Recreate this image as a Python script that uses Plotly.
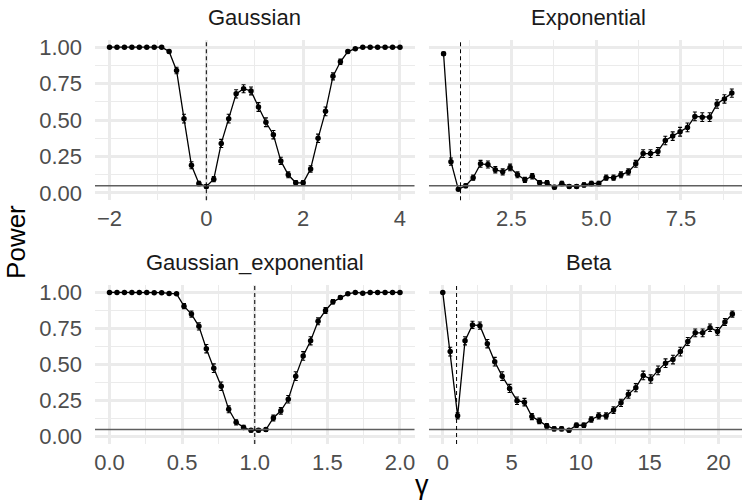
import plotly.graph_objects as go

# ---------------- data ----------------
panels = ["Gaussian", "Exponential", "Gaussian_exponential", "Beta"]
true_values = [0, 1, 1, 1]
alpha_level = 0.05

gauss_x = [-2 + 6 * i / 39 for i in range(40)]
gauss_power = [1, 1, 1, 1, 1, 1, 1, 1, 0.97, 0.84, 0.51, 0.19, 0.065, 0.045, 0.095, 0.34,
               0.51, 0.68, 0.715, 0.70, 0.59, 0.485, 0.40, 0.22, 0.125, 0.07, 0.07, 0.165,
               0.375, 0.56, 0.80, 0.90, 0.97, 0.99, 1, 1, 1, 1, 1, 1]
gauss_err = [0, 0, 0, 0, 0, 0, 0, 0, 0.010, 0.022, 0.030, 0.024, 0.015, 0.012, 0.018, 0.028,
             0.030, 0.028, 0.027, 0.027, 0.030, 0.030, 0.029, 0.025, 0.020, 0.015, 0.015, 0.022,
             0.029, 0.030, 0.024, 0.018, 0.010, 0.006, 0, 0, 0, 0, 0, 0]

expo_x = [0.5 + 8.5 * i / 39 for i in range(40)]
expo_power = [0.955, 0.215, 0.025, 0.05, 0.105, 0.2, 0.195, 0.16, 0.145, 0.175, 0.125, 0.09,
              0.115, 0.07, 0.07, 0.04, 0.065, 0.045, 0.045, 0.055, 0.065, 0.065, 0.105, 0.105,
              0.125, 0.145, 0.2, 0.27, 0.27, 0.285, 0.36, 0.39, 0.42, 0.45, 0.525, 0.52, 0.52,
              0.61, 0.645, 0.685]
expo_err = [0.012, 0.025, 0.009, 0.013, 0.018, 0.024, 0.024, 0.022, 0.021, 0.023, 0.020, 0.017,
            0.019, 0.015, 0.015, 0.012, 0.015, 0.012, 0.012, 0.014, 0.015, 0.015, 0.018, 0.018,
            0.020, 0.021, 0.024, 0.027, 0.027, 0.027, 0.029, 0.029, 0.030, 0.030, 0.030, 0.030,
            0.030, 0.029, 0.029, 0.028]

gexp_x = [2 * i / 39 for i in range(40)]
gexp_power = [1, 1, 1, 1, 1, 1, 0.998, 0.998, 0.993, 0.99, 0.905, 0.85, 0.765, 0.61, 0.475,
              0.35, 0.19, 0.10, 0.065, 0.045, 0.045, 0.05, 0.13, 0.18, 0.26, 0.42, 0.56, 0.665,
              0.80, 0.875, 0.935, 0.965, 0.99, 1, 0.995, 1, 1, 1, 1, 1]
gexp_err = [0, 0, 0, 0, 0, 0, 0.003, 0.003, 0.005, 0.006, 0.018, 0.021, 0.025, 0.029, 0.030,
            0.029, 0.024, 0.018, 0.015, 0.012, 0.012, 0.013, 0.020, 0.023, 0.026, 0.030, 0.030,
            0.028, 0.024, 0.020, 0.015, 0.011, 0.006, 0, 0.004, 0, 0, 0, 0, 0]

beta_x = [21 * i / 39 for i in range(40)]
beta_power = [1.0, 0.59, 0.145, 0.665, 0.775, 0.77, 0.645, 0.52, 0.42, 0.335, 0.25, 0.24, 0.14,
              0.11, 0.075, 0.055, 0.055, 0.045, 0.08, 0.08, 0.12, 0.145, 0.145, 0.185, 0.235,
              0.295, 0.34, 0.425, 0.40, 0.46, 0.51, 0.535, 0.59, 0.66, 0.72, 0.72, 0.755, 0.73,
              0.795, 0.85]
beta_err = [0, 0.030, 0.021, 0.028, 0.025, 0.025, 0.029, 0.030, 0.030, 0.028, 0.026, 0.026,
            0.021, 0.019, 0.016, 0.014, 0.014, 0.012, 0.016, 0.016, 0.019, 0.021, 0.021, 0.023,
            0.025, 0.027, 0.028, 0.030, 0.029, 0.030, 0.030, 0.030, 0.030, 0.028, 0.027, 0.027,
            0.026, 0.027, 0.024, 0.021]

y_ticks = [0, 0.25, 0.5, 0.75, 1.0]

# ---------------- layout geometry (window pixels; body margin removed) ----------------
W, H = 743, 500
ML, MR, MT = 95, 0, 0
BOT = 444
MB = H - BOT
PW, PH = W - ML - MR, H - MT - MB


def fx(p):  # pixel x -> paper fraction
    return (p - ML) / PW


def fy(p):  # pixel y -> paper fraction
    return (BOT - p) / PH


FONT = "Liberation Sans, Arial, Helvetica, sans-serif"
GRID = "#EBEBEB"
TICKC = "#4D4D4D"
FS = 22

xs = [gauss_x, expo_x, gexp_x, beta_x]
ys = [gauss_power, expo_power, gexp_power, beta_power]
es = [gauss_err, expo_err, gexp_err, beta_err]

fig = go.Figure()
for i in range(4):
    sfx = "" if i == 0 else str(i + 1)
    fig.add_trace(go.Scatter(
        x=xs[i], y=ys[i], mode="lines+markers",
        line=dict(color="black", width=1.3),
        marker=dict(color="black", size=5.5),
        error_y=dict(type="data", array=es[i], visible=True, color="black",
                     thickness=1.1, width=2),
        xaxis="x" + sfx, yaxis="y" + sfx, showlegend=False, hoverinfo="skip"))

left_dom = [fx(95), fx(415)]
right_dom = [fx(429.5), 1.0]
top_dom = [fy(197.5), fy(35.3)]
bot_dom = [0.0, fy(283.4)]

x_specs = [
    dict(domain=left_dom, range=[-2.3, 4.3], dtick=2, tick0=0, minor_dtick=1, fmt="d", anchor="y"),
    dict(domain=right_dom, range=[0.07, 9.3], dtick=2.5, tick0=0, minor_dtick=1.25, fmt=".1f", anchor="y2"),
    dict(domain=left_dom, range=[-0.1, 2.1], dtick=0.5, tick0=0, minor_dtick=0.25, fmt=".1f", anchor="y3"),
    dict(domain=right_dom, range=[-1.0, 21.7], dtick=5, tick0=0, minor_dtick=2.5, fmt="d", anchor="y4"),
]
y_doms = [top_dom, top_dom, bot_dom, bot_dom]
x_anchor = ["x", "x2", "x3", "x4"]

layout = dict(
    width=W, height=H,
    margin=dict(l=ML, r=MR, t=MT, b=MB, pad=0),
    paper_bgcolor="white", plot_bgcolor="white",
    font=dict(family=FONT, color=TICKC, size=FS),
    showlegend=False,
)

for i in range(4):
    sfx = "" if i == 0 else str(i + 1)
    s = x_specs[i]
    layout["xaxis" + sfx] = dict(
        domain=s["domain"], range=s["range"], anchor=s["anchor"],
        tickmode="linear", tick0=s["tick0"], dtick=s["dtick"], tickformat=s["fmt"],
        showgrid=True, gridcolor=GRID, gridwidth=2.6, zeroline=False, showline=False,
        ticks="", ticklabelstandoff=3,
        tickfont=dict(family=FONT, size=FS, color=TICKC),
        minor=dict(tickmode="linear", tick0=0, dtick=s["minor_dtick"], showgrid=True,
                   gridcolor=GRID, gridwidth=1.4, ticks=""),
    )
    layout["yaxis" + sfx] = dict(
        domain=y_doms[i], range=[-0.05, 1.05], anchor=x_anchor[i],
        tickmode="array", tickvals=y_ticks, tickformat=".2f",
        showticklabels=(i % 2 == 0),
        showgrid=True, gridcolor=GRID, gridwidth=2.6, zeroline=False, showline=False,
        ticks="", ticklabelstandoff=12,
        tickfont=dict(family=FONT, size=FS, color=TICKC),
        minor=dict(tickmode="linear", tick0=0, dtick=0.125, showgrid=True,
                   gridcolor=GRID, gridwidth=1.4, ticks=""),
    )

shapes = []
for i in range(4):
    sfx = "" if i == 0 else str(i + 1)
    shapes.append(dict(type="line", xref="x" + sfx + " domain", yref="y" + sfx,
                       x0=0, x1=1, y0=alpha_level, y1=alpha_level,
                       line=dict(color="#5F5F5F", width=1.5), layer="above"))
    shapes.append(dict(type="line", xref="x" + sfx, yref="y" + sfx + " domain",
                       x0=true_values[i], x1=true_values[i], y0=0, y1=1,
                       line=dict(color="black", width=1, dash="4px,3px"), layer="above"))
layout["shapes"] = shapes

strip_pos = [(255, 12.5), (589.5, 12.5), (255, 260.5), (589.5, 260.5)]
annotations = []
for name, (px, py) in zip(panels, strip_pos):
    annotations.append(dict(text=name, x=fx(px), y=fy(py), xref="paper", yref="paper",
                            xanchor="center", yanchor="middle", showarrow=False,
                            font=dict(family=FONT, size=FS, color="#1A1A1A")))
annotations.append(dict(text="Power", x=fx(16.5), y=fy(240), xref="paper", yref="paper",
                        xanchor="center", yanchor="middle", textangle=-90, showarrow=False,
                        font=dict(family=FONT, size=26, color="black")))
annotations.append(dict(text="γ", x=fx(423), y=fy(485), xref="paper", yref="paper",
                        xanchor="center", yanchor="middle", showarrow=False,
                        font=dict(family=FONT, size=27, color="black")))
layout["annotations"] = annotations

fig.update_layout(**layout)
fig.write_html("out.html", config={"displayModeBar": False},
               post_script="document.body.style.margin='0px';")
